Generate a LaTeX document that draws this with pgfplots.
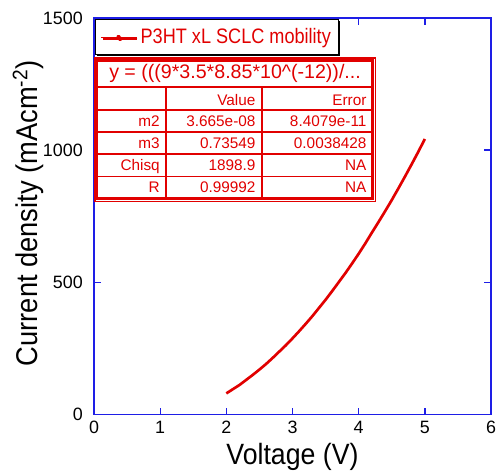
\documentclass[border=0pt]{standalone}
\usepackage{fontspec}
\setmainfont{Liberation Sans}
\newfontfamily\labfont{Liberation Sans}[FakeStretch=0.91]
\newfontfamily\legfont{Liberation Sans}[FakeStretch=0.865]
\usepackage{pgfplots}
\pgfplotsset{compat=1.18}
\usetikzlibrary{shadows}

\definecolor{tred}{RGB}{225,0,0}
\definecolor{axblue}{RGB}{30,30,230}

% J-V data of the device (V, mA/cm^2)
\pgfplotstableread{
V J
2.0 80
2.1 96
2.2 112
2.3 131
2.4 150
2.5 170
2.6 191
2.7 214
2.8 238
2.9 262
3.0 288
3.1 315
3.2 343
3.3 372
3.4 403
3.5 434
3.6 467
3.7 501
3.8 535
3.9 571
4.0 608
4.1 647
4.2 688
4.3 728
4.4 769
4.5 811
4.6 855
4.7 900
4.8 946
4.9 993
5.0 1042
}\jvdata

\begin{document}
\begin{tikzpicture}
\begin{axis}[
  scale only axis, width=297.75pt, height=297.5pt,
  at={(70.5pt,-310.9pt)}, anchor=south west,
  xmin=0, xmax=6, ymin=0, ymax=1500,
  xtick={0,1,...,6}, ytick={0,500,1000,1500},
  tick align=inside, major tick length=5pt,
  axis line style={axblue, line width=1.1pt},
  every tick/.style={axblue, line width=1pt},
  /pgf/number format/assume math mode=true,
  /pgf/number format/set thousands separator={},
  tick label style={font=\fontsize{13.4}{15}\selectfont, text=black, inner sep=0pt},
  xticklabel style={yshift=-4.65pt},
  yticklabel style={xshift=-8.25pt},
  xlabel={Voltage (V)},
  ylabel={Current density (mAcm\textsuperscript{-2})},
  every axis x label/.style={at={(axis description cs:0.5,-0.1248)}, anchor=base, inner sep=0pt,
    font=\labfont\fontsize{22}{26}\selectfont},
  every axis y label/.style={at={(axis description cs:-0.1423,0.5076)}, rotate=90, anchor=base,
    inner sep=0pt, font=\labfont\fontsize{22.5}{26}\selectfont},
  legend style={at={(axis description cs:0.0025,0.9965)}, anchor=north west,
    draw=black, line width=0.6pt, fill=white, inner xsep=4pt, inner ysep=4.7pt,
    column sep=1.25pt, font=\legfont\fontsize{15.7}{18}\selectfont, text=tred,
    drop shadow={shadow xshift=1.2pt, shadow yshift=-1.2pt, fill=black, opacity=1}},
  legend image code/.code={\draw[#1, line width=0.7pt] (0pt,0pt) -- (26pt,0pt);
    \fill[#1] (13pt,0pt) circle (0.8pt);},
]
\addplot[tred, line width=2pt, line join=round] table[x=V, y=J] {\jvdata};
\addlegendentry{P3HT xL SCLC mobility}
\end{axis}

% fit results table
\begin{scope}[x=0.75pt, y=-0.75pt]
  \fill[white] (95,58) rectangle (375.5,201.5);
  \draw[tred, line width=0.8pt] (95,58) rectangle (375.5,201.5);
  \draw[tred, line width=2pt] (96.5,60.5) rectangle (372.5,198.5);
  \draw[tred, line width=1.5pt] (96.5,87) -- (372.5,87);
  \foreach \yy in {110,132,154,176.5}
    \draw[tred, line width=0.9pt] (96.5,\yy) -- (372.5,\yy);
  \draw[tred, line width=2pt] (166,87) -- (166,198.5);
  \draw[tred, line width=0.8pt] (262,87) -- (262,198.5);
  \begin{scope}[every node/.style={inner sep=0pt, text=tred, font=\fontsize{11.5}{13}\selectfont, anchor=base east}]
    \node[anchor=base west, font=\fontsize{14.7}{17}\selectfont] at (109,78.3) {y = (((9*3.5*8.85*10\textasciicircum(-12))/...};
    \node at (255.7,105) {Value};
    \node at (366.7,105) {Error};
    \node at (160,126.7) {m2};
    \node at (255.7,126.7) {3.665e-08};
    \node at (366.7,126.7) {8.4079e-11};
    \node at (160,148.5) {m3};
    \node at (255.7,148.5) {0.73549};
    \node at (366.7,148.5) {0.0038428};
    \node at (160,170.7) {Chisq};
    \node at (255.7,170.7) {1898.9};
    \node at (366.7,170.7) {NA};
    \node at (160,192.7) {R};
    \node at (255.7,192.7) {0.99992};
    \node at (366.7,192.7) {NA};
  \end{scope}
\end{scope}

\pgfresetboundingbox
\path[use as bounding box] (0,0) rectangle (375pt,-353.25pt);
\end{tikzpicture}
\end{document}
